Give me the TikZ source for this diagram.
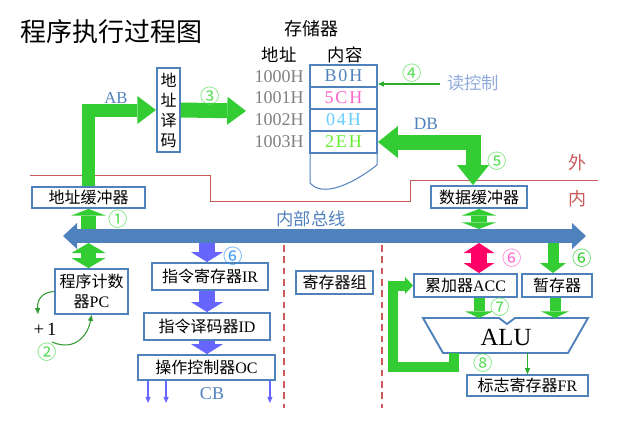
\documentclass[tikz,border=0pt]{standalone}
\usepackage{fontspec}
\setmainfont{Liberation Serif}
\newfontfamily\cjk{Noto Sans CJK SC}
\usetikzlibrary{arrows.meta,calc}
\definecolor{boxblue}{HTML}{4F81BD}
\definecolor{gr}{HTML}{33CC33}
\definecolor{lgr}{HTML}{55DD55}
\definecolor{dgr}{HTML}{339933}
\definecolor{ablue}{HTML}{6666FF}
\definecolor{pinkA}{HTML}{FF0066}
\definecolor{redl}{HTML}{C85A58}
\definecolor{greyt}{HTML}{808080}
\definecolor{rctext}{HTML}{8FAADC}
\tikzset{
 tA/.tip={Triangle[width=21pt,length=14pt,line width=0pt]},
 tDB/.tip={Triangle[width=24pt,length=15pt,line width=0pt]},
 tS/.tip={Triangle[width=25.5pt,length=7.5pt,line width=0pt]},
 tSs/.tip={Triangle[width=26pt,length=5pt,line width=0pt]},
 tP/.tip={Triangle[width=23pt,length=7.5pt,line width=0pt]},
 tT/.tip={Triangle[width=19.5pt,length=7.5pt,line width=0pt]},
 tSv/.tip={Triangle[width=21pt,length=5pt,line width=0pt]},
 tB/.tip={Triangle[width=19.5pt,length=10.5pt,line width=0pt]},
 tI/.tip={Triangle[width=24pt,length=7.5pt,line width=0pt]},
 tF/.tip={Triangle[width=12.75pt,length=6pt,line width=0pt]},
 tn/.tip={Triangle[width=4pt,length=4.5pt,line width=0pt]},
 box/.style={draw=boxblue, line width=1.4pt, fill=white, inner sep=0pt, align=center,
   font=\fontsize{12}{15}\selectfont},
 cell/.style={draw=boxblue, line width=1.4pt, fill=white, inner sep=0pt,
   minimum width=50.25pt, minimum height=16.5pt, font=\fontsize{13.5}{15}\selectfont\addfontfeatures{LetterSpace=10}},
 addr/.style={anchor=east, text=greyt, inner sep=0pt, font=\fontsize{13.5}{15}\selectfont},
 circ/.style={inner sep=0pt, font=\cjk\fontsize{14.5}{15}\selectfont},
 garr/.style={draw=gr, line width=#1, line join=miter},
 barr/.style={draw=ablue, line width=#1},
 lbl/.style={inner sep=0pt, text=boxblue, font=\fontsize{13}{15}\selectfont},
}
\begin{document}
\begin{tikzpicture}[x=0.75pt,y=-0.75pt]
\useasboundingbox (0,0) rectangle (640,425);

% title and headings
\node[inner sep=0pt, font=\cjk\fontsize{19.5}{20}\selectfont] (title) at (112,32) {程序执行过程图};
\node[inner sep=0pt, font=\cjk\fontsize{13.5}{15}\selectfont] (mem) at (311,29) {存储器};
\node[inner sep=0pt, font=\cjk\fontsize{13}{15}\selectfont] (haddr) at (279,55) {地址};
\node[inner sep=0pt, font=\cjk\fontsize{13}{15}\selectfont] (hcont) at (345,55) {内容};

% red boundary lines
\draw[redl, line width=0.75pt] (30,175) -- (210,175) -- (210,201) -- (410,201) -- (410,180) -- (598,180);
\node[inner sep=0pt, text=redl, font=\cjk\fontsize{13.5}{15}\selectfont] (out) at (577,163) {外};
\node[inner sep=0pt, text=redl, font=\cjk\fontsize{13.5}{15}\selectfont] (in) at (577,199) {内};
\draw[redl, line width=1.5pt, dash pattern=on 5pt off 3.5pt] (284,245) -- (284,408);
\draw[redl, line width=1.5pt, dash pattern=on 5pt off 3.5pt] (382,245) -- (382,408);

% memory
\draw[boxblue, line width=0.75pt] (310,150) -- (310,183) .. controls (322,197) and (350,186) .. (377,165) -- (377,150);
\node[cell, text=boxblue] (c1) at (343.5,76) {B0H};
\node[cell, text={rgb,255:red,255;green,102;blue,204}] (c2) at (343.5,98) {5CH};
\node[cell, text={rgb,255:red,102;green,204;blue,255}] (c3) at (343.5,120) {04H};
\node[cell, text={rgb,255:red,102;green,238;blue,51}] (c4) at (343.5,142) {2EH};
\node[addr] (a1) at (304,77) {1000H};
\node[addr] (a2) at (304,98) {1001H};
\node[addr] (a3) at (304,120) {1002H};
\node[addr] (a4) at (304,142) {1003H};

% boxes
\node[box, minimum width=84.75pt, minimum height=15.75pt] (abuf) at (88.5,197.5) {{\cjk 地址缓冲器}};
\node[box, minimum width=17.25pt, minimum height=63pt, font=\cjk\fontsize{12}{15}\selectfont] (adec) at (168.5,110) {地\\址\\译\\码};
\node[box, minimum width=54.75pt, minimum height=33.75pt] (pc) at (91.5,291.5) {{\cjk 程序计数}\\{\cjk 器}PC};
\node[box, minimum width=87pt, minimum height=20.25pt] (ir) at (210,276.5) {{\cjk 指令寄存器}IR};
\node[box, minimum width=94.5pt, minimum height=20.25pt] (id) at (207,326.5) {{\cjk 指令译码器}ID};
\node[box, minimum width=102.75pt, minimum height=18.75pt] (oc) at (206.5,367.5) {{\cjk 操作控制器}OC};
\node[box, minimum width=57.75pt, minimum height=17.25pt] (reg) at (334.5,282.5) {{\cjk 寄存器组}};
\node[box, minimum width=77.25pt, minimum height=17.25pt] (acc) at (465.5,285.5) {{\cjk 累加器}ACC};
\node[box, minimum width=52.5pt, minimum height=17.25pt] (tmp) at (557,285.5) {{\cjk 暂存器}};
\node[box, minimum width=72pt, minimum height=16.5pt] (dbuf) at (479,197) {{\cjk 数据缓冲器}};
\node[box, minimum width=90.75pt, minimum height=15.75pt] (fr) at (527.5,385.5) {{\cjk 标志寄存器}FR};

% ALU
\draw[boxblue, line width=1.4pt, fill=white, line join=miter] (423,318) -- (499,318) -- (507,324) -- (515,318) -- (588,318) -- (568,353) -- (443,353) -- cycle;
\node[inner sep=0pt, font=\fontsize{18.5}{20}\selectfont] (alu) at (506,337) {ALU};
\coordinate (alutop) at (0,318);
\coordinate (alubot) at (527.5,353);
\coordinate (alubl) at (453.5,353);
\coordinate (fbc) at (393,367);

% bus
\coordinate (busL) at (63,236);
\coordinate (busR) at (586,236);
\coordinate (bt) at (0,229);
\coordinate (bb) at (0,243);
\draw[boxblue, line width=10.5pt, tB-tB] (busL) -- (busR);
\node[inner sep=0pt, text=boxblue, font=\cjk\fontsize{13}{15}\selectfont] (busl) at (311,219) {内部总线};

% address path
\coordinate (addrin) at (246,111);
\draw[garr=9.75pt, -tA] (abuf.north) |- (adec.west);
\draw[garr=11.25pt, -tA] (adec.east) -- (addrin);
\node[lbl, font=\fontsize{12.5}{15}\selectfont] (ab) at (116,98) {AB};

% read control
\coordinate (rc) at (440,84);
\draw[gr!85!black, line width=1.5pt, -tn] (rc) -- (c1.east |- rc);
\node[inner sep=0pt, text=rctext, font=\cjk\fontsize{13}{15}\selectfont] (rcl) at (473,83) {读控制};

% data bus
\draw[garr=11.25pt, tDB-tDB] (c4.east) -| ($(dbuf.north)+(-6,0)$);
\node[lbl] (db) at (426,124) {DB};

% bus connections
\draw[garr=11.25pt, -tSs] (abuf.south |- bt) -- (abuf.south);
\draw[garr=11.25pt, tS-tS] (abuf.south |- bb) -- (abuf.south |- pc.north);
\draw[garr=12pt, tSs-tSs] (dbuf.south) -- (dbuf.south |- bt);
\draw[draw=pinkA, line width=12pt, tP-tP] (dbuf.south |- bb) -- (dbuf.south |- acc.north);
\draw[garr=8.25pt, -tT] ($(tmp.north |- bb)+(-4,0)$) -- ($(tmp.north)+(-4,0)$);
\draw[barr=12pt, -tI] (id.north |- bb) -- (id.north |- ir.north);
\draw[barr=12pt, -tI] (id.north |- ir.south) -- (id.north);
\draw[barr=12pt, -tI] (id.south) -- (id.south |- oc.north);
\draw[ablue, line width=1pt, -tn] ($(oc.south west)+(11,0)$) -- ++(0,22);
\draw[ablue, line width=1pt, -tn] ($(oc.south west)+(29,0)$) -- ++(0,22);
\draw[ablue, line width=1pt, -tn] ($(oc.south east)+(-6,0)$) -- ++(0,22);
\node[lbl, font=\fontsize{13.5}{15}\selectfont] (cb) at (212,394) {CB};

% ALU inputs/outputs
\draw[garr=8.25pt, -tSv] (acc.south -| dbuf.south) -- (dbuf.south |- alutop);
\draw[garr=8.25pt, -tSv] ($(tmp.south)+(-2,0)$) -- ($(tmp.south |- alutop)+(-2,0)$);
\draw[garr=7.5pt, -tF] (alubl) |- (fbc) |- (acc.west);
\draw[gr!85!black, line width=1pt, -tn] (alubot) -- (fr.north);

% PC increment
\draw[dgr, line width=0.8pt, -tn] (pc.west) .. controls (42,292) and (37,300) .. (38,314);
\draw[dgr, line width=0.8pt, -tn] (52,342) .. controls (75,352) and (88,335) .. (pc.south);
\node[inner sep=0pt, font=\fontsize{14}{15}\selectfont] (plus) at (45,329) {+\,1};

% circled numbers
\node[circ, text=lgr] (n1) at (118,219) {①};
\node[circ, text=lgr] (n2) at (47,352) {②};
\node[circ, text=lgr] (n3) at (210,96) {③};
\node[circ, text=lgr] (n4) at (412,73) {④};
\node[circ, text=lgr] (n5) at (497,161) {⑤};
\node[circ, text={rgb,255:red,51;green,153;blue,255}] (n6a) at (233,256) {⑥};
\node[circ, text={rgb,255:red,255;green,102;blue,204}] (n6b) at (512,258) {⑥};
\node[circ, text=gr] (n6c) at (582,258) {⑥};
\node[circ, text=lgr] (n7) at (500,307) {⑦};
\node[circ, text=lgr] (n8) at (483,363) {⑧};
\end{tikzpicture}
\end{document}
